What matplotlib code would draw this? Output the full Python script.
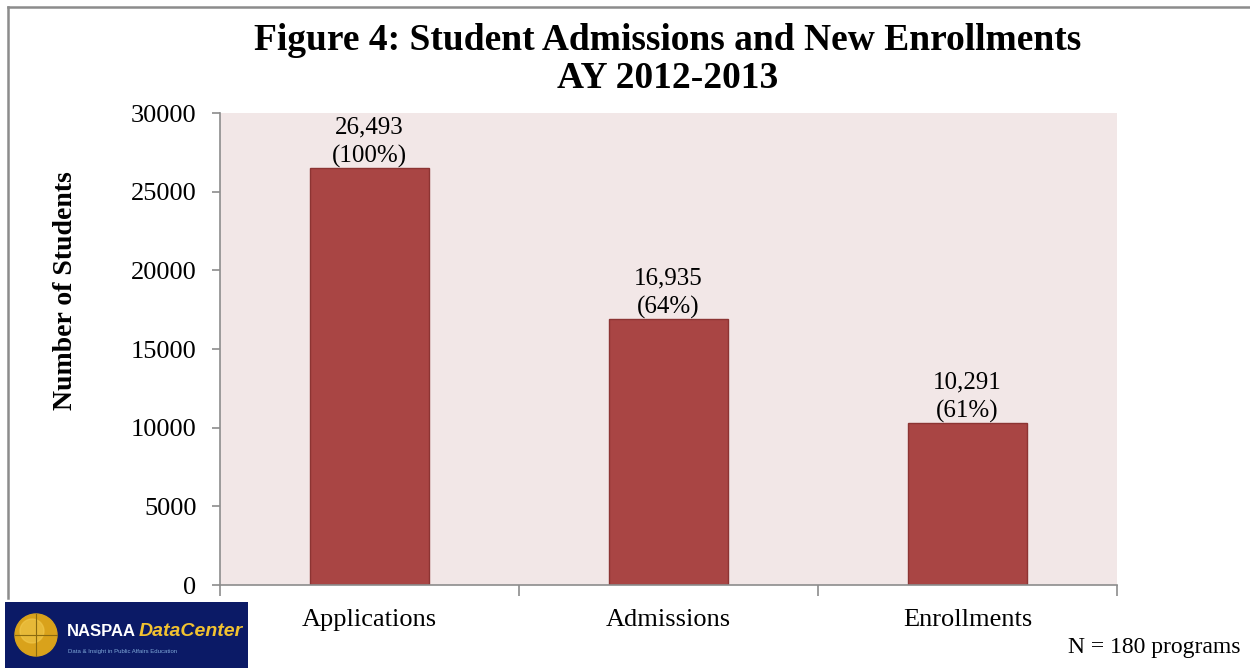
import matplotlib
matplotlib.use("Agg")
import matplotlib.pyplot as plt
from matplotlib.patches import Circle, Rectangle
from matplotlib.lines import Line2D

categories = ["Applications", "Admissions", "Enrollments"]
students = [26493, 16935, 10291]
shares = ["100%", "64%", "61%"]
yticks = [0, 5000, 10000, 15000, 20000, 25000, 30000]

W, H = 1250, 668
plt.rcParams["font.family"] = ["Liberation Serif", "DejaVu Serif"]

fig = plt.figure(figsize=(W / 100, H / 100), dpi=100)
ax = fig.add_axes([220 / W, (H - 585) / H, (1117 - 220) / W, (585 - 113) / H])
ax.set_facecolor("#F2E7E7")

x = range(len(categories))
ax.bar(x, students, width=0.4, color="#A94544", edgecolor="#8C3433", linewidth=1)
for xi, v, s in zip(x, students, shares):
    ax.text(xi, v, f"{v:,}\n({s})", ha="center", va="bottom",
            fontsize=18, linespacing=1.35)

ax.set_xlim(-0.5, len(categories) - 0.5)
ax.set_ylim(0, 30000)
ax.set_yticks(yticks)
ax.set_yticklabels([str(t) for t in yticks], fontsize=19)
ax.set_xticks(list(x))
ax.set_xticklabels(categories, fontsize=19)
ax.tick_params(axis="x", length=0, pad=17)
ax.tick_params(axis="y", length=6, width=1.2, color="#8c8c8c", pad=11)
# category boundary ticks under the x axis
ax.set_xticks([-0.5, 0.5, 1.5, 2.5], minor=True)
ax.tick_params(axis="x", which="minor", length=8, width=1.2, color="#8c8c8c")
for side in ["top", "right"]:
    ax.spines[side].set_visible(False)
for side in ["left", "bottom"]:
    ax.spines[side].set_color("#8c8c8c")
    ax.spines[side].set_linewidth(1.2)

fig.text(66 / W, 1 - 291 / H, "Number of Students", rotation=90,
         ha="center", va="center", fontsize=20, fontweight="bold")
fig.text(668 / W, 1 - 40 / H, "Figure 4: Student Admissions and New Enrollments",
         ha="center", va="center", fontsize=27, fontweight="bold")
fig.text(668 / W, 1 - 78 / H, "AY 2012-2013",
         ha="center", va="center", fontsize=27, fontweight="bold")
fig.text(1240 / W, 1 - 648 / H, "N = 180 programs", ha="right", va="center",
         fontsize=17)

# outer frame (top and left edges)
fig.add_artist(Line2D([8 / W, 8 / W], [1 - 598 / H, 1 - 7 / H],
                      color="#8c8c8c", lw=1.8))
fig.add_artist(Line2D([8 / W, 1.0], [1 - 7 / H, 1 - 7 / H],
                      color="#8c8c8c", lw=1.8))

# NASPAA Data Center badge
lg = fig.add_axes([5 / W, 0, 243 / W, 66 / H])
lg.set_xlim(0, 243)
lg.set_ylim(0, 66)
lg.axis("off")
lg.add_patch(Rectangle((0, 0), 243, 66, color="#0B1A66"))
lg.add_patch(Circle((31, 33), 21, color="#D9A21B"))
lg.add_patch(Circle((27, 37), 12, color="#F2C94C", alpha=0.6))
lg.plot([10, 52], [33, 33], color="#8a6a10", lw=0.8)
lg.plot([31, 31], [12, 54], color="#8a6a10", lw=0.8)
lg.text(62, 37, "NASPAA", color="white", fontsize=12, fontweight="bold",
        family="Liberation Sans", va="center", ha="left")
lg.text(134, 37, "DataCenter", color="#F2C230", fontsize=14, fontweight="bold",
        style="italic", family="Liberation Sans", va="center", ha="left")
lg.text(63, 17, "Data & Insight in Public Affairs Education", color="#7FA8D8",
        fontsize=4.3, family="Liberation Sans", va="center", ha="left")

fig.savefig("out.png", dpi=100)
